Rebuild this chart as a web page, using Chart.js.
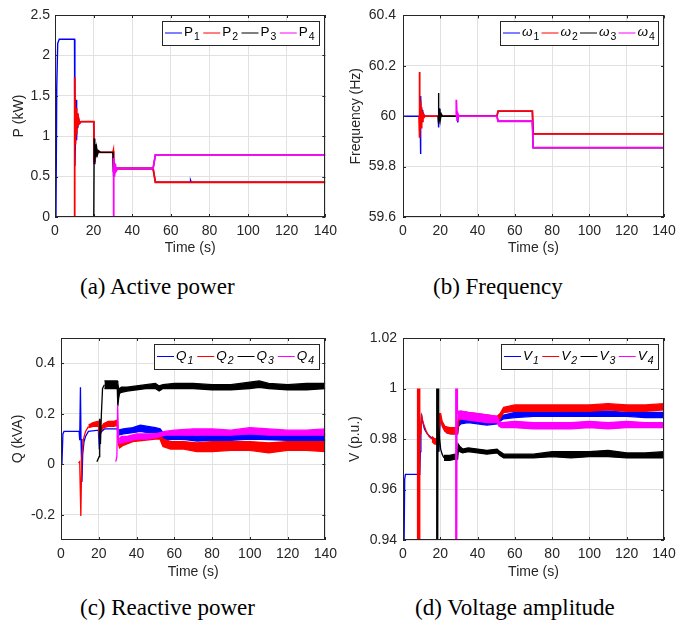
<!DOCTYPE html>
<html>
<head>
<meta charset="utf-8">
<script src="https://cdn.jsdelivr.net/npm/chart.js@4.4.1/dist/chart.umd.min.js"></script>
<style>
  body { margin: 0; background: #fff; width: 687px; height: 621px; position: relative; overflow: hidden; }
  canvas { position: absolute; }
  .cap { position: absolute; font-family: "Liberation Serif", "Times New Roman", serif; font-size: 23px; line-height: 23px; color: #000; white-space: nowrap; }
</style>
</head>
<body>
<canvas id="chartP" width="343" height="262" style="left:0;top:0"></canvas>
<canvas id="chartF" width="344" height="262" style="left:343px;top:0"></canvas>
<canvas id="chartQ" width="343" height="262" style="left:0;top:320px"></canvas>
<canvas id="chartV" width="344" height="262" style="left:343px;top:320px"></canvas>
<div class="cap" style="left:80px;top:275px">(a) Active power</div>
<div class="cap" style="left:433px;top:275px">(b) Frequency</div>
<div class="cap" style="left:80px;top:596px">(c) Reactive power</div>
<div class="cap" style="left:415px;top:596px">(d) Voltage amplitude</div>
<script>
// tick values
const xTicks = [0, 20, 40, 60, 80, 100, 120, 140];
const pTicks = [0, 0.5, 1, 1.5, 2, 2.5];
const fTicks = [59.6, 59.8, 60, 60.2, 60.4];
const qTicks = [-0.2, 0, 0.2, 0.4];
const vTicks = [0.94, 0.96, 0.98, 1, 1.02];

const pNames = ['P1', 'P2', 'P3', 'P4'];
const fNames = ['ω1', 'ω2', 'ω3', 'ω4'];
const qNames = ['Q1', 'Q2', 'Q3', 'Q4'];
const vNames = ['V1', 'V2', 'V3', 'V4'];
const colors = ['#0000ff', '#ff0000', '#000000', '#ff00ff'];
// later series a bit wider so they cover the one below cleanly
const widths = [1.4, 1.8, 1.4, 1.8];

// (a) active power, kW
const p1T = [0.5, 0.9, 1.4, 2.2, 10.1, 10.3, 10.7, 11.0, 11.2, 11.5, 11.8, 12.2, 12.8, 13.5, 20.1, 20.3, 20.7, 21.1, 21.6, 22.3, 30.1, 30.3, 30.7, 31.1, 31.8, 50.8, 52.0, 70.0, 70.2, 70.6, 140];
const p1V = [0, 1.6, 2.15, 2.2, 2.2, 0.63, 1.05, 1.45, 0.95, 1.28, 1.1, 1.22, 1.16, 1.18, 1.18, 0.66, 0.88, 0.74, 0.84, 0.8, 0.8, 0.5, 0.68, 0.56, 0.6, 0.6, 0.43, 0.43, 0.455, 0.43, 0.43];
const p2T = [10.0, 10.2, 10.6, 10.9, 11.2, 11.5, 11.8, 12.2, 12.7, 13.5, 20.1, 20.3, 20.6, 21.0, 21.5, 22.4, 30.0, 30.2, 30.4, 30.8, 31.3, 32.0, 50.8, 52.0, 140];
const p2V = [0, 1.73, 0.9, 1.35, 1.02, 1.28, 1.12, 1.22, 1.16, 1.18, 1.18, 0.68, 0.86, 0.75, 0.83, 0.8, 0.8, 0.82, 0.55, 0.64, 0.58, 0.6, 0.6, 0.43, 0.43];
const p3T = [20.1, 20.3, 20.6, 20.9, 21.2, 21.6, 22.0, 22.6, 23.5, 30.0, 30.3, 30.7, 31.2, 32.0, 50.8, 52.0, 140];
const p3V = [0, 0.97, 0.68, 0.9, 0.74, 0.85, 0.77, 0.82, 0.8, 0.8, 0.56, 0.64, 0.59, 0.6, 0.6, 0.77, 0.77];
const p4T = [30.1, 30.4, 30.8, 31.2, 31.7, 32.5, 50.8, 52.0, 140];
const p4V = [0, 0.73, 0.5, 0.66, 0.57, 0.6, 0.6, 0.77, 0.77];

// (b) frequency, Hz
const f1T = [0, 9.2, 9.35, 9.6, 9.9, 10.2, 10.6, 11.0, 11.6, 18.9, 19.1, 19.4, 19.8, 20.3, 29.2, 29.4, 29.7, 50.4, 51.0, 69.4, 69.8, 140];
const f1V = [60, 60, 59.85, 60.08, 59.97, 60.025, 59.99, 60.01, 60, 60, 59.955, 60.03, 59.99, 60, 60, 59.975, 60, 60, 60.02, 60.02, 59.93, 59.93];
const f2T = [8.6, 8.75, 9.1, 9.4, 9.7, 10.0, 10.3, 10.7, 11.2, 11.8, 50.4, 51.0, 69.4, 69.8, 140];
const f2V = [60, 60.175, 59.915, 60.06, 59.955, 60.035, 59.98, 60.015, 59.995, 60, 60, 60.02, 60.02, 59.93, 59.93];
const f3T = [18.8, 18.95, 19.3, 19.6, 20.0, 20.5, 21.2, 50.4, 51.0, 69.4, 69.8, 140];
const f3V = [60, 60.092, 59.97, 60.03, 59.985, 60.01, 60, 60, 59.98, 59.98, 59.875, 59.875];
const f4T = [28.5, 28.6, 29.0, 29.4, 29.9, 50.4, 51.0, 69.4, 69.8, 140];
const f4V = [60, 60.065, 59.985, 60.01, 60, 60, 59.98, 59.98, 59.875, 59.875];

// (c) reactive power, kVA: transient + noisy band (lo/hi edges)
const q1T = [0.5, 1.0, 1.6, 9.6, 9.9, 10.3, 10.6, 11.1, 11.5, 12.2, 13.0, 14.5, 19.8, 20.3, 20.8, 21.5, 23, 29.8, 30.3];
const q1V = [0, 0.12, 0.13, 0.13, 0.095, 0.305, 0.1, -0.07, 0.04, 0.09, 0.11, 0.13, 0.135, 0.06, 0.12, 0.13, 0.14, 0.14, 0.12];
const q1BandT = [30.3, 33, 38, 42, 46, 50, 52.5, 55, 60, 66, 72, 80, 90, 100, 110, 120, 130, 140];
const q1Lo = [0.115, 0.12, 0.125, 0.13, 0.125, 0.125, 0.11, 0.095, 0.1, 0.098, 0.092, 0.095, 0.095, 0.1, 0.098, 0.095, 0.095, 0.095];
const q1Hi = [0.135, 0.14, 0.145, 0.155, 0.15, 0.145, 0.14, 0.115, 0.12, 0.115, 0.112, 0.115, 0.115, 0.12, 0.118, 0.115, 0.115, 0.12];

const q2T = [9.3, 9.9, 10.5, 11.0, 11.9, 13.0, 14.6];
const q2V = [0.005, 0.01, -0.205, 0.03, 0.1, 0.13, 0.15];
const q2BandT = [14.6, 17, 19.8, 20.3, 21, 22.5, 25, 28, 29.8, 30.3, 31, 33, 38, 44, 50, 52.4, 54, 58, 65, 72, 80, 90, 100, 110, 120, 130, 140];
const q2Lo = [0.145, 0.15, 0.15, 0.12, 0.13, 0.145, 0.15, 0.15, 0.155, 0.085, 0.065, 0.075, 0.09, 0.095, 0.1, 0.1, 0.07, 0.06, 0.06, 0.05, 0.05, 0.055, 0.055, 0.045, 0.055, 0.055, 0.05];
const q2Hi = [0.155, 0.165, 0.17, 0.13, 0.14, 0.16, 0.17, 0.17, 0.175, 0.1, 0.085, 0.095, 0.105, 0.115, 0.12, 0.12, 0.1, 0.09, 0.09, 0.085, 0.09, 0.09, 0.09, 0.085, 0.09, 0.09, 0.09];

const q3T = [19.0, 20.2, 20.5, 20.9, 21.4, 22.0, 23.0];
const q3V = [0.01, 0.03, 0.18, 0.08, 0.2, 0.3, 0.315];
const q3BandT = [23.0, 26, 29.8, 30.1, 30.5, 31.0, 32, 35, 40, 45, 50, 52, 54, 60, 70, 80, 90, 100, 105, 110, 120, 130, 140];
const q3Lo = [0.3, 0.3, 0.3, 0.23, 0.26, 0.28, 0.285, 0.29, 0.295, 0.3, 0.3, 0.29, 0.3, 0.3, 0.3, 0.295, 0.295, 0.3, 0.305, 0.3, 0.295, 0.295, 0.3];
const q3Hi = [0.33, 0.33, 0.33, 0.32, 0.3, 0.3, 0.305, 0.305, 0.31, 0.315, 0.32, 0.31, 0.315, 0.32, 0.32, 0.315, 0.315, 0.325, 0.33, 0.32, 0.315, 0.32, 0.32];

const q4T = [29.0, 29.6, 30.0, 30.4, 30.8];
const q4V = [0.01, 0.03, 0.235, 0.12, 0.08];
const q4BandT = [30.8, 32, 35, 40, 45, 50, 52.5, 55, 60, 70, 80, 90, 100, 110, 120, 130, 140];
const q4Lo = [0.08, 0.085, 0.09, 0.1, 0.1, 0.105, 0.11, 0.115, 0.115, 0.115, 0.115, 0.115, 0.12, 0.115, 0.115, 0.115, 0.115];
const q4Hi = [0.1, 0.11, 0.11, 0.12, 0.12, 0.12, 0.125, 0.13, 0.135, 0.14, 0.14, 0.135, 0.145, 0.14, 0.135, 0.135, 0.14];

// (d) voltage amplitude, p.u.
const v1T = [0.5, 0.9, 1.3, 9.0, 9.3, 9.6, 9.9, 10.5, 11.5, 13, 14.5, 16, 18.8, 19.2, 20.0, 21, 23];
const v1V = [0.93, 0.964, 0.966, 0.966, 0.975, 0.985, 0.99, 0.987, 0.984, 0.982, 0.981, 0.98, 0.98, 0.975, 0.988, 0.986, 0.984];
const v1BandT = [23, 26, 29.3, 29.8, 31, 35, 40, 45, 50.5, 52, 54, 60, 70, 80, 90, 100, 110, 120, 130, 140];
const v1Lo = [0.9825, 0.982, 0.982, 0.985, 0.986, 0.9865, 0.986, 0.9855, 0.986, 0.987, 0.988, 0.9885, 0.989, 0.989, 0.989, 0.989, 0.989, 0.989, 0.9885, 0.9885];
const v1Hi = [0.9845, 0.9845, 0.9845, 0.9875, 0.988, 0.988, 0.9875, 0.987, 0.9875, 0.989, 0.9895, 0.9905, 0.991, 0.991, 0.9905, 0.991, 0.991, 0.9905, 0.9905, 0.9905];

const v2T = [7.6, 7.7, 7.9, 8.1, 8.3, 8.5, 8.7, 8.9, 9.1, 9.3, 9.6, 10.0, 11, 12.5, 14, 15.5];
const v2V = [0.93, 1.0, 0.93, 1.0, 0.93, 1.0, 0.93, 1.0, 0.975, 0.985, 0.982, 0.989, 0.986, 0.983, 0.981, 0.98];
const v2BandT = [15.5, 17, 18.9, 19.2, 19.6, 20.2, 21, 22.5, 25, 28, 29.3, 29.8, 31, 35, 40, 45, 50.5, 52, 54, 60, 70, 80, 90, 100, 110, 120, 130, 140];
const v2Lo = [0.979, 0.978, 0.978, 0.98, 0.986, 0.988, 0.985, 0.983, 0.982, 0.982, 0.982, 0.987, 0.988, 0.988, 0.9875, 0.987, 0.987, 0.988, 0.9905, 0.991, 0.991, 0.991, 0.991, 0.991, 0.9915, 0.991, 0.991, 0.9915];
const v2Hi = [0.981, 0.98, 0.98, 0.983, 0.99, 0.99, 0.987, 0.985, 0.9845, 0.9845, 0.985, 0.99, 0.991, 0.9905, 0.99, 0.9895, 0.989, 0.99, 0.9925, 0.9935, 0.9935, 0.9935, 0.9935, 0.9935, 0.994, 0.9935, 0.9935, 0.994];

const v3T = [17.9, 18.0, 18.2, 18.4, 18.6, 18.8, 19.0, 19.3, 19.7, 20.2, 21, 22];
const v3V = [0.93, 1.0, 0.93, 1.0, 0.93, 1.0, 0.975, 0.985, 0.98, 0.976, 0.974, 0.9725];
const v3BandT = [22, 25, 28, 29.3, 29.6, 30.5, 32, 35, 40, 45, 50.5, 52, 54, 60, 70, 80, 90, 100, 110, 120, 130, 140];
const v3Lo = [0.9715, 0.9715, 0.972, 0.972, 0.9755, 0.975, 0.9745, 0.975, 0.9745, 0.974, 0.9745, 0.9735, 0.9725, 0.9725, 0.9725, 0.973, 0.9725, 0.973, 0.973, 0.9725, 0.9725, 0.9725];
const v3Hi = [0.9735, 0.9735, 0.974, 0.974, 0.978, 0.977, 0.976, 0.9765, 0.976, 0.9755, 0.976, 0.975, 0.974, 0.974, 0.974, 0.975, 0.975, 0.975, 0.9755, 0.9745, 0.9745, 0.975];

const v4T = [28.1, 28.2, 28.4, 28.6, 28.8, 29.0, 29.2];
const v4V = [0.93, 1.0, 0.93, 1.0, 0.93, 1.0, 0.99];
const v4BandT = [29.2, 31, 35, 40, 45, 50.5, 51.5, 53, 60, 70, 80, 90, 100, 110, 120, 130, 140];
const v4Lo = [0.988, 0.988, 0.9875, 0.987, 0.9865, 0.9865, 0.985, 0.9845, 0.9845, 0.984, 0.984, 0.984, 0.9845, 0.984, 0.9845, 0.9845, 0.9845];
const v4Hi = [0.991, 0.991, 0.9905, 0.99, 0.9895, 0.989, 0.987, 0.9865, 0.987, 0.9865, 0.9865, 0.9865, 0.987, 0.9865, 0.987, 0.9865, 0.9865];

const axisColor = '#262626';
const gridColor = '#e1e1e1';
const fontFamily = '"Liberation Sans", Arial, Helvetica, sans-serif';

function xy(t, v) {
    return t.map((x, i) => ({ x: x, y: v[i] }));
}

function lineSets(names, series) {
    return series.map((s, i) => ({
        label: names[i], data: xy(s[0], s[1]),
        borderColor: colors[i], borderWidth: widths[i], pointRadius: 0,
        fill: false, order: 4 - i, clip: 0
    }));
}

// transient line + noisy band (hi line, lo line filled up to hi)
function bandSets(names, series) {
    const sets = [];
    series.forEach((s, i) => {
        const base = { borderColor: colors[i], backgroundColor: colors[i], borderWidth: 1.3, pointRadius: 0, order: 4 - i, clip: 0 };
        sets.push(Object.assign({ label: names[i], data: xy(s[0], s[1]), fill: false }, base));
        sets.push(Object.assign({ label: names[i] + ' hi', data: xy(s[2], s[4]), fill: false }, base));
        sets.push(Object.assign({ label: names[i] + ' lo', data: xy(s[2], s[3]), fill: '-1' }, base));
    });
    return sets;
}

// box, inward ticks and legend in MATLAB style
const matlabAxes = {
    id: 'matlabAxes',
    afterDatasetsDraw(chart, args, opts) {
        const ctx = chart.ctx, ca = chart.chartArea;
        const xs = chart.scales.x, ys = chart.scales.y;
        ctx.save();
        ctx.strokeStyle = axisColor;
        ctx.lineWidth = 1;
        ctx.beginPath();
        xs.ticks.forEach(tk => {
            const px = Math.round(xs.getPixelForValue(tk.value)) + 0.5;
            ctx.moveTo(px, ca.bottom); ctx.lineTo(px, ca.bottom - 3);
            ctx.moveTo(px, ca.top); ctx.lineTo(px, ca.top + 3);
        });
        ys.ticks.forEach(tk => {
            const py = Math.round(ys.getPixelForValue(tk.value)) + 0.5;
            ctx.moveTo(ca.left, py); ctx.lineTo(ca.left + 3, py);
            ctx.moveTo(ca.right, py); ctx.lineTo(ca.right - 3, py);
        });
        ctx.stroke();
        ctx.strokeRect(Math.round(ca.left) + 0.5, Math.round(ca.top) + 0.5, Math.round(ca.right - ca.left) - 1, Math.round(ca.bottom - ca.top) - 1);

        // legend
        const w = opts.width, h = opts.height;
        const left = Math.round(ca.right - 6 - w), top = Math.round(ca.top + 6);
        ctx.fillStyle = '#fff';
        ctx.fillRect(left, top, w, h);
        ctx.strokeStyle = axisColor;
        ctx.strokeRect(left + 0.5, top + 0.5, w, h);
        const pitch = (w - 4) / 4;
        const yc = top + h / 2;
        const st = opts.italic ? 'italic ' : '';
        const subSt = opts.subItalic ? 'italic ' : '';
        opts.names.forEach((nm, i) => {
            const x0 = left + 3 + i * pitch;
            ctx.strokeStyle = colors[i];
            ctx.beginPath();
            ctx.moveTo(x0, yc); ctx.lineTo(x0 + 17, yc);
            ctx.stroke();
            ctx.fillStyle = '#000';
            ctx.textBaseline = 'alphabetic';
            ctx.font = st + '13.5px ' + fontFamily;
            const base = nm.slice(0, -1), sub = nm.slice(-1);
            ctx.fillText(base, x0 + 19, yc + 3);
            const bw = ctx.measureText(base).width;
            ctx.font = subSt + '10.5px ' + fontFamily;
            ctx.fillText(sub, x0 + 20 + bw, yc + 7);
        });
        ctx.restore();
    }
};

function makeChart(id, datasets, cfg) {
    const fmt = v => String(+Number(v).toFixed(3));
    return new Chart(document.getElementById(id), {
        type: 'line',
        data: { datasets: datasets },
        plugins: [matlabAxes],
        options: {
            responsive: false,
            animation: false,
            events: [],
            layout: { padding: cfg.pad },
            plugins: {
                legend: { display: false },
                tooltip: { enabled: false },
                matlabAxes: { names: cfg.names, italic: cfg.italic, subItalic: cfg.subItalic, width: cfg.legW, height: cfg.legH }
            },
            scales: {
                x: {
                    type: 'linear', min: 0, max: 140,
                    afterBuildTicks: s => { s.ticks = xTicks.map(v => ({ value: v })); },
                    afterFit: s => { s.height = cfg.xH; },
                    grid: { color: gridColor, drawTicks: false },
                    border: { display: false },
                    ticks: { color: axisColor, font: { family: fontFamily, size: 14 }, padding: cfg.xTickPad, maxRotation: 0, callback: fmt },
                    title: { display: true, text: 'Time (s)', color: axisColor, font: { family: fontFamily, size: 14, lineHeight: 1 }, padding: { top: 0, bottom: cfg.xTitlePad } }
                },
                y: {
                    type: 'linear', min: cfg.yMin, max: cfg.yMax,
                    afterBuildTicks: s => { s.ticks = cfg.yTicks.map(v => ({ value: v })); },
                    afterFit: s => { s.width = cfg.yW; },
                    grid: { color: gridColor, drawTicks: false },
                    border: { display: false },
                    ticks: { color: axisColor, font: { family: fontFamily, size: 14 }, padding: cfg.yTickPad, callback: fmt },
                    title: { display: true, text: cfg.yTitle, color: axisColor, font: { family: fontFamily, size: 14, lineHeight: 1 }, padding: { top: cfg.yTitlePad, bottom: 0 } }
                }
            }
        }
    });
}

makeChart('chartP', lineSets(pNames, [[p1T, p1V], [p2T, p2V], [p3T, p3V], [p4T, p4V]]), {
    names: pNames, italic: false, subItalic: false, legW: 157, legH: 24,
    yMin: 0, yMax: 2.5, yTicks: pTicks, yTitle: 'P (kW)',
    pad: { left: 0, top: 15, right: 17, bottom: 0 }, yW: 55, xH: 45,
    xTickPad: 6, xTitlePad: 7, yTickPad: 5, yTitlePad: 12
});

makeChart('chartF', lineSets(fNames, [[f1T, f1V], [f2T, f2V], [f3T, f3V], [f4T, f4V]]), {
    names: fNames, italic: true, subItalic: false, legW: 158, legH: 24,
    yMin: 59.6, yMax: 60.4, yTicks: fTicks, yTitle: 'Frequency (Hz)',
    pad: { left: 0, top: 15, right: 23, bottom: 0 }, yW: 60, xH: 45,
    xTickPad: 6, xTitlePad: 7, yTickPad: 7, yTitlePad: 6
});

makeChart('chartQ', bandSets(qNames, [
    [q1T, q1V, q1BandT, q1Lo, q1Hi], [q2T, q2V, q2BandT, q2Lo, q2Hi],
    [q3T, q3V, q3BandT, q3Lo, q3Hi], [q4T, q4V, q4BandT, q4Lo, q4Hi]]), {
    names: qNames, italic: true, subItalic: true, legW: 165, legH: 25,
    yMin: -0.3, yMax: 0.5, yTicks: qTicks, yTitle: 'Q (kVA)',
    pad: { left: 0, top: 18, right: 17, bottom: 0 }, yW: 61, xH: 42,
    xTickPad: 6, xTitlePad: 3, yTickPad: 6, yTitlePad: 11
});

makeChart('chartV', bandSets(vNames, [
    [v1T, v1V, v1BandT, v1Lo, v1Hi], [v2T, v2V, v2BandT, v2Lo, v2Hi],
    [v3T, v3V, v3BandT, v3Lo, v3Hi], [v4T, v4V, v4BandT, v4Lo, v4Hi]]), {
    names: vNames, italic: true, subItalic: true, legW: 157, legH: 25,
    yMin: 0.94, yMax: 1.02, yTicks: vTicks, yTitle: 'V (p.u.)',
    pad: { left: 0, top: 18, right: 23, bottom: 0 }, yW: 60, xH: 42,
    xTickPad: 6, xTitlePad: 3, yTickPad: 6, yTitlePad: 5
});
</script>
</body>
</html>
